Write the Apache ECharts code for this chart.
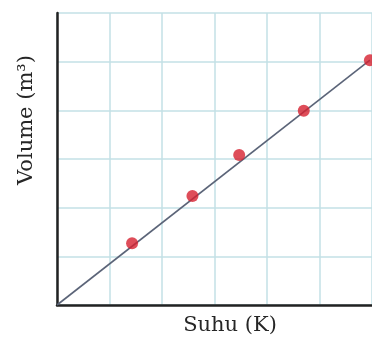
<!DOCTYPE html>
<html>
<head>
<meta charset="utf-8">
<script src="https://cdn.jsdelivr.net/npm/echarts@6/dist/echarts.min.js"></script>
<style>
  html, body { margin: 0; padding: 0; background: #ffffff; }
  #chart { width: 372px; height: 341px; }
</style>
</head>
<body>
<div id="chart"></div>
<script>
// Measured temperature (grid units) and volume (grid units)
const suhu = [1.43, 2.58, 3.47, 4.70, 5.96];
const volume = [1.27, 2.24, 3.08, 3.99, 5.03];
// Straight trend line from the origin through the last measurement
const lineStart = [0, 0];
const lineEnd = [5.96, 5.03];

const xLabel = 'Suhu (K)';
const yLabel = 'Volume (m³)';

const points = suhu.map((x, i) => [x, volume[i]]);
const labelFont = '21px "DejaVu Serif", serif';

const chart = echarts.init(document.getElementById('chart'), null, { renderer: 'canvas' });
chart.setOption({
  animation: false,
  backgroundColor: '#ffffff',
  grid: { left: 57, top: 13, width: 318, height: 292, containLabel: false },
  xAxis: {
    type: 'value', min: 0, max: 6, interval: 1,
    axisLine: { show: true, onZero: false, lineStyle: { color: '#222222', width: 2.5 } },
    axisTick: { show: false },
    axisLabel: { show: false },
    splitLine: { show: true, lineStyle: { color: '#c3e0e6', width: 1.5 } }
  },
  yAxis: {
    type: 'value', min: 0, max: 6, interval: 1,
    axisLine: { show: true, onZero: false, lineStyle: { color: '#222222', width: 2.5 } },
    axisTick: { show: false },
    axisLabel: { show: false },
    splitLine: { show: true, lineStyle: { color: '#c3e0e6', width: 1.5 } }
  },
  series: [
    {
      type: 'line',
      data: [lineStart, lineEnd],
      symbol: 'none',
      lineStyle: { color: '#5b6478', width: 1.6 },
      z: 3
    },
    {
      type: 'scatter',
      data: points,
      symbol: 'circle',
      symbolSize: 12,
      itemStyle: { color: '#d6202f' },
      z: 4
    }
  ],
  graphic: [
    {
      type: 'text', x: 27, y: 120, rotation: Math.PI / 2,
      style: { text: yLabel, x: 0, y: 0, align: 'center', verticalAlign: 'middle', font: labelFont, fill: '#262626' }
    },
    {
      type: 'text', x: 230, y: 326,
      style: { text: xLabel, x: 0, y: 0, align: 'center', verticalAlign: 'middle', font: labelFont, fill: '#262626' }
    }
  ]
});
</script>
</body>
</html>
